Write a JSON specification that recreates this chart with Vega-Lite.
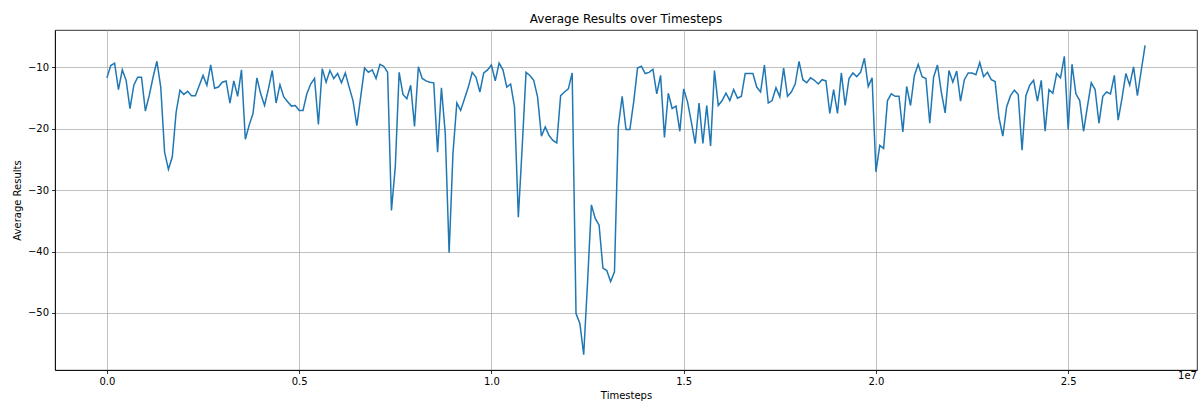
{
  "$schema": "https://vega.github.io/schema/vega-lite/v6.json",
  "width": 1142,
  "height": 340,
  "autosize": {"type": "none"},
  "padding": {"left": 55, "top": 30, "right": 6, "bottom": 33},
  "background": "white",
  "config": {
    "font": "DejaVu Sans",
    "view": {"stroke": "black", "strokeWidth": 0.8},
    "axis": {
      "labelFont": "DejaVu Sans", "labelFontSize": 10, "labelColor": "black",
      "titleFont": "DejaVu Sans", "titleFontSize": 10, "titleFontWeight": "normal", "titleColor": "black",
      "tickColor": "black", "tickSize": 3.5, "tickWidth": 0.8,
      "domainColor": "black", "domainWidth": 0.8,
      "gridColor": "#b0b0b0", "gridWidth": 0.8, "grid": true
    }
  },
  "title": {"text": "Average Results over Timesteps", "font": "DejaVu Sans", "fontSize": 12, "fontWeight": "normal", "color": "black", "offset": 4},
  "datasets": {
    "main": [
      {"t":0,"v":-11.7},{"t":100000,"v":-9.7},{"t":200000,"v":-9.3},{"t":300000,"v":-13.6},{"t":400000,"v":-10.4},
      {"t":500000,"v":-12.1},{"t":600000,"v":-16.7},{"t":700000,"v":-12.9},{"t":800000,"v":-11.6},{"t":900000,"v":-11.6},
      {"t":1000000,"v":-17.1},{"t":1100000,"v":-14.6},{"t":1200000,"v":-11.6},{"t":1300000,"v":-9.0},{"t":1400000,"v":-13.2},
      {"t":1500000,"v":-23.8},{"t":1600000,"v":-26.6},{"t":1700000,"v":-24.6},{"t":1800000,"v":-17.3},{"t":1900000,"v":-13.7},
      {"t":2000000,"v":-14.4},{"t":2100000,"v":-13.9},{"t":2200000,"v":-14.6},{"t":2300000,"v":-14.6},{"t":2400000,"v":-13.0},
      {"t":2500000,"v":-11.3},{"t":2600000,"v":-12.9},{"t":2700000,"v":-9.6},{"t":2800000,"v":-13.4},{"t":2900000,"v":-13.2},
      {"t":3000000,"v":-12.4},{"t":3100000,"v":-12.2},{"t":3200000,"v":-15.8},{"t":3300000,"v":-12.2},{"t":3400000,"v":-14.7},
      {"t":3500000,"v":-10.4},{"t":3600000,"v":-21.7},{"t":3700000,"v":-19.4},{"t":3800000,"v":-17.5},{"t":3900000,"v":-11.7},
      {"t":4000000,"v":-14.3},{"t":4100000,"v":-16.2},{"t":4200000,"v":-13.5},{"t":4300000,"v":-10.5},{"t":4400000,"v":-15.8},
      {"t":4500000,"v":-12.8},{"t":4600000,"v":-14.8},{"t":4700000,"v":-15.6},{"t":4800000,"v":-16.3},{"t":4900000,"v":-16.2},
      {"t":5000000,"v":-17.0},{"t":5100000,"v":-17.0},{"t":5200000,"v":-14.3},{"t":5300000,"v":-12.7},{"t":5400000,"v":-11.8},
      {"t":5500000,"v":-19.3},{"t":5600000,"v":-10.2},{"t":5700000,"v":-12.4},{"t":5800000,"v":-10.5},{"t":5900000,"v":-11.8},
      {"t":6000000,"v":-11.0},{"t":6100000,"v":-12.5},{"t":6200000,"v":-10.9},{"t":6300000,"v":-13.2},{"t":6400000,"v":-15.4},
      {"t":6500000,"v":-19.5},{"t":6600000,"v":-14.8},{"t":6700000,"v":-10.1},{"t":6800000,"v":-10.8},{"t":6900000,"v":-10.4},
      {"t":7000000,"v":-11.8},{"t":7100000,"v":-9.5},{"t":7200000,"v":-9.8},{"t":7300000,"v":-10.8},{"t":7400000,"v":-33.3},
      {"t":7500000,"v":-26.2},{"t":7600000,"v":-10.8},{"t":7700000,"v":-14.4},{"t":7800000,"v":-15.1},{"t":7900000,"v":-12.9},
      {"t":8000000,"v":-19.6},{"t":8100000,"v":-9.9},{"t":8200000,"v":-11.8},{"t":8300000,"v":-12.2},{"t":8400000,"v":-12.4},
      {"t":8500000,"v":-12.5},{"t":8600000,"v":-23.8},{"t":8700000,"v":-13.3},{"t":8800000,"v":-20.8},{"t":8900000,"v":-40.2},
      {"t":9000000,"v":-24.0},{"t":9100000,"v":-15.8},{"t":9200000,"v":-17.0},{"t":9300000,"v":-15.1},{"t":9400000,"v":-13.2},
      {"t":9500000,"v":-10.8},{"t":9600000,"v":-11.6},{"t":9700000,"v":-14.0},{"t":9800000,"v":-10.9},{"t":9900000,"v":-10.4},
      {"t":10000000,"v":-9.6},{"t":10100000,"v":-12.2},{"t":10200000,"v":-9.3},{"t":10300000,"v":-10.4},{"t":10400000,"v":-13.2},
      {"t":10500000,"v":-12.7},{"t":10600000,"v":-16.4},{"t":10700000,"v":-34.4},{"t":10800000,"v":-23.0},{"t":10900000,"v":-10.8},
      {"t":11000000,"v":-11.3},{"t":11100000,"v":-12.1},{"t":11200000,"v":-14.8},{"t":11300000,"v":-21.2},{"t":11400000,"v":-19.7},
      {"t":11500000,"v":-21.1},{"t":11600000,"v":-21.9},{"t":11700000,"v":-22.3},{"t":11800000,"v":-14.6},{"t":11900000,"v":-14.0},
      {"t":12000000,"v":-13.5},{"t":12100000,"v":-10.9},{"t":12200000,"v":-50.1},{"t":12300000,"v":-51.7},{"t":12400000,"v":-56.8},
      {"t":12500000,"v":-45.0},{"t":12600000,"v":-32.4},{"t":12700000,"v":-34.6},{"t":12800000,"v":-35.7},{"t":12900000,"v":-42.7},
      {"t":13000000,"v":-43.1},{"t":13100000,"v":-44.9},{"t":13200000,"v":-43.3},{"t":13300000,"v":-19.7},{"t":13400000,"v":-14.7},
      {"t":13500000,"v":-20.1},{"t":13600000,"v":-20.1},{"t":13700000,"v":-15.6},{"t":13800000,"v":-10.1},{"t":13900000,"v":-9.8},
      {"t":14000000,"v":-11.0},{"t":14100000,"v":-10.8},{"t":14200000,"v":-10.3},{"t":14300000,"v":-14.3},{"t":14400000,"v":-11.3},
      {"t":14500000,"v":-21.4},{"t":14600000,"v":-14.2},{"t":14700000,"v":-16.7},{"t":14800000,"v":-16.3},{"t":14900000,"v":-20.4},
      {"t":15000000,"v":-13.5},{"t":15100000,"v":-15.6},{"t":15200000,"v":-18.9},{"t":15300000,"v":-22.4},{"t":15400000,"v":-15.8},
      {"t":15500000,"v":-22.4},{"t":15600000,"v":-16.2},{"t":15700000,"v":-22.8},{"t":15800000,"v":-10.5},{"t":15900000,"v":-16.2},
      {"t":16000000,"v":-15.4},{"t":16100000,"v":-14.2},{"t":16200000,"v":-15.4},{"t":16300000,"v":-13.6},{"t":16400000,"v":-15.0},
      {"t":16500000,"v":-14.7},{"t":16600000,"v":-11.0},{"t":16700000,"v":-11.0},{"t":16800000,"v":-11.0},{"t":16900000,"v":-13.2},
      {"t":17000000,"v":-14.0},{"t":17100000,"v":-9.6},{"t":17200000,"v":-15.8},{"t":17300000,"v":-15.4},{"t":17400000,"v":-13.3},
      {"t":17500000,"v":-14.8},{"t":17600000,"v":-10.1},{"t":17700000,"v":-14.7},{"t":17800000,"v":-14.0},{"t":17900000,"v":-12.7},
      {"t":18000000,"v":-9.0},{"t":18100000,"v":-12.0},{"t":18200000,"v":-12.5},{"t":18300000,"v":-11.7},{"t":18400000,"v":-12.1},
      {"t":18500000,"v":-12.7},{"t":18600000,"v":-12.0},{"t":18700000,"v":-12.2},{"t":18800000,"v":-17.5},{"t":18900000,"v":-13.6},
      {"t":19000000,"v":-17.5},{"t":19100000,"v":-10.9},{"t":19200000,"v":-16.2},{"t":19300000,"v":-11.8},{"t":19400000,"v":-10.9},
      {"t":19500000,"v":-11.5},{"t":19600000,"v":-10.8},{"t":19700000,"v":-8.5},{"t":19800000,"v":-13.1},{"t":19900000,"v":-11.7},
      {"t":20000000,"v":-27.0},{"t":20100000,"v":-22.7},{"t":20200000,"v":-23.2},{"t":20300000,"v":-15.4},{"t":20400000,"v":-14.3},
      {"t":20500000,"v":-14.7},{"t":20600000,"v":-14.7},{"t":20700000,"v":-20.5},{"t":20800000,"v":-13.1},{"t":20900000,"v":-16.2},
      {"t":21000000,"v":-11.3},{"t":21100000,"v":-9.5},{"t":21200000,"v":-11.5},{"t":21300000,"v":-11.8},{"t":21400000,"v":-19.1},
      {"t":21500000,"v":-11.6},{"t":21600000,"v":-9.6},{"t":21700000,"v":-14.0},{"t":21800000,"v":-17.4},{"t":21900000,"v":-10.5},
      {"t":22000000,"v":-12.4},{"t":22100000,"v":-10.6},{"t":22200000,"v":-15.5},{"t":22300000,"v":-12.0},{"t":22400000,"v":-10.9},
      {"t":22500000,"v":-10.9},{"t":22600000,"v":-11.2},{"t":22700000,"v":-9.2},{"t":22800000,"v":-11.5},{"t":22900000,"v":-10.8},
      {"t":23000000,"v":-12.0},{"t":23100000,"v":-12.3},{"t":23200000,"v":-18.2},{"t":23300000,"v":-21.2},{"t":23400000,"v":-16.4},
      {"t":23500000,"v":-14.6},{"t":23600000,"v":-13.7},{"t":23700000,"v":-14.4},{"t":23800000,"v":-23.5},{"t":23900000,"v":-14.6},
      {"t":24000000,"v":-12.9},{"t":24100000,"v":-12.1},{"t":24200000,"v":-15.5},{"t":24300000,"v":-12.1},{"t":24400000,"v":-20.4},
      {"t":24500000,"v":-13.6},{"t":24600000,"v":-14.2},{"t":24700000,"v":-11.0},{"t":24800000,"v":-11.7},{"t":24900000,"v":-8.2},
      {"t":25000000,"v":-20.1},{"t":25100000,"v":-9.5},{"t":25200000,"v":-14.3},{"t":25300000,"v":-15.4},{"t":25400000,"v":-20.4},
      {"t":25500000,"v":-16.4},{"t":25600000,"v":-12.5},{"t":25700000,"v":-13.6},{"t":25800000,"v":-19.1},{"t":25900000,"v":-14.7},
      {"t":26000000,"v":-14.0},{"t":26100000,"v":-14.3},{"t":26200000,"v":-11.3},{"t":26300000,"v":-18.6},{"t":26400000,"v":-15.0},
      {"t":26500000,"v":-11.0},{"t":26600000,"v":-12.9},{"t":26700000,"v":-9.9},{"t":26800000,"v":-14.6},{"t":26900000,"v":-10.5},
      {"t":27000000,"v":-6.4}
    ],
    "offset": [{"label": "1e7"}]
  },
  "layer": [
    {
      "data": {"name": "main"},
      "mark": {"type": "line", "color": "#1f77b4", "strokeWidth": 1.5, "clip": true},
      "encoding": {
        "x": {"field": "t", "type": "quantitative", "title": "Timesteps",
          "scale": {"domain": [-1350000, 28350000], "nice": false, "zero": false},
          "axis": {"values": [0, 5000000, 10000000, 15000000, 20000000, 25000000],
            "labelExpr": "format(datum.value / 10000000, '.1f')", "labelPadding": 3, "titlePadding": 4}},
        "y": {"field": "v", "type": "quantitative", "title": "Average Results",
          "scale": {"domain": [-59.3, -3.9], "nice": false, "zero": false},
          "axis": {"values": [-50, -40, -30, -20, -10], "labelPadding": 3, "titlePadding": 5}}
      }
    },
    {
      "data": {"name": "offset"},
      "mark": {"type": "text", "align": "right", "baseline": "top", "fontSize": 10, "font": "DejaVu Sans", "color": "black", "dy": 1},
      "encoding": {
        "text": {"field": "label"},
        "x": {"datum": 28350000},
        "y": {"datum": -59.3}
      }
    }
  ]
}
